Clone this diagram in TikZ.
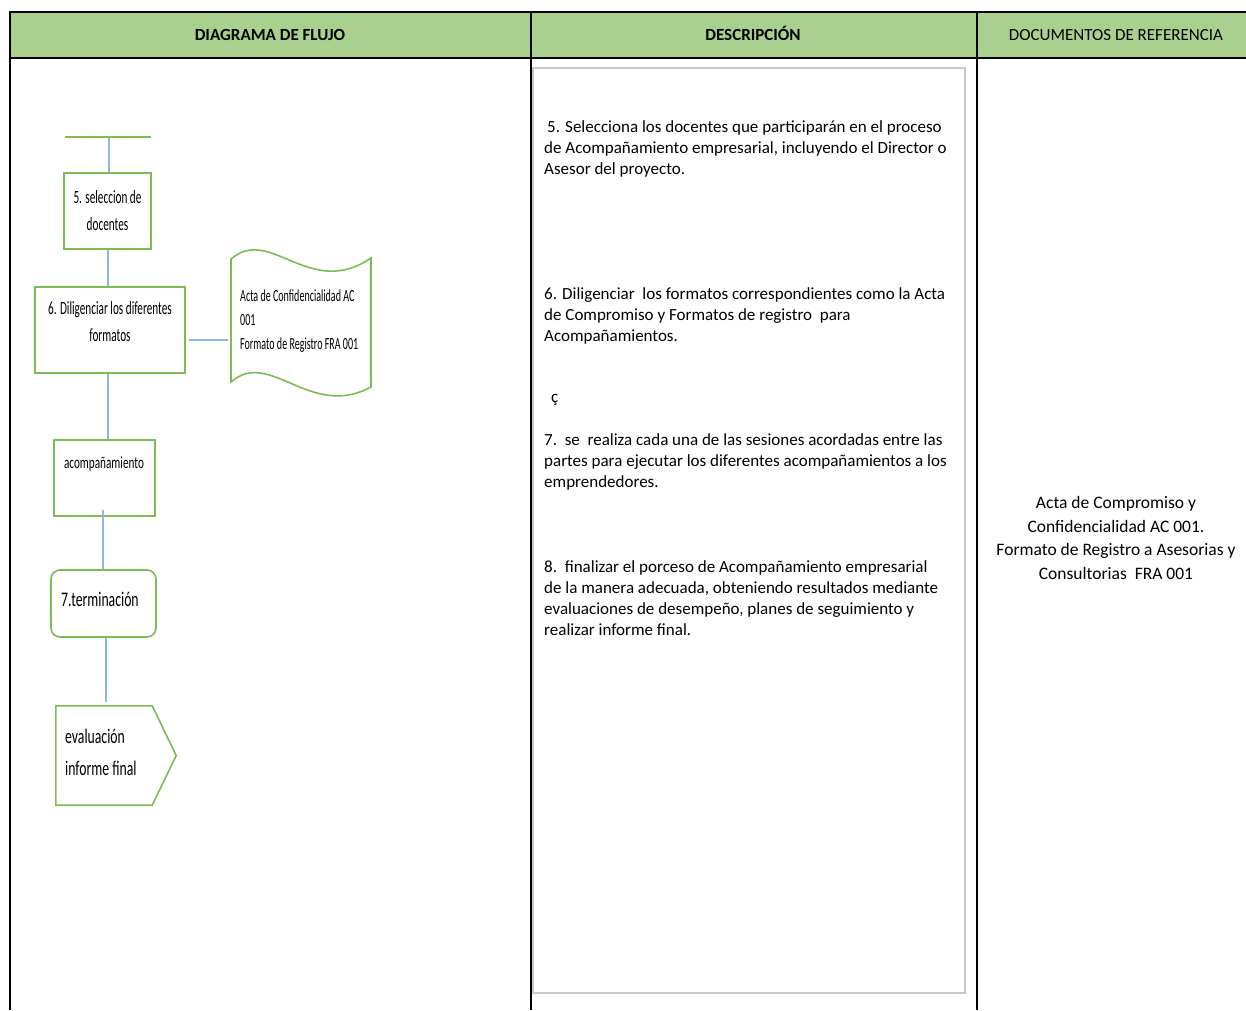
\documentclass[tikz,border=0pt]{standalone}
\usepackage{fontspec}
\setmainfont{Carlito}
\newfontfamily\narrowfont[FakeStretch=0.6]{Carlito}
\newfontfamily\narrowacfont[FakeStretch=0.66]{Carlito}
\newfontfamily\narrowerfont[FakeStretch=0.59]{Carlito}
\newfontfamily\narrowbigfont[FakeStretch=0.66]{Carlito}
\definecolor{hdr}{HTML}{A9D08E}
\definecolor{boxg}{HTML}{7DBB55}
\definecolor{lnb}{HTML}{8DB8E2}
\definecolor{grayb}{HTML}{C8C8C8}
\begin{document}
\begin{tikzpicture}[x=1pt,y=-1pt,
  fbox/.style={draw=boxg, line width=1.6pt, inner sep=0pt},
  conn/.style={draw=lnb, line width=1.5pt},
  gridln/.style={line width=2.2pt, black},
  hd/.style={font=\fontsize{17}{20}\selectfont, anchor=base},
  nf/.style={font=\narrowfont\fontsize{18.7}{27}\selectfont, inner sep=0pt},
  bigf/.style={font=\narrowbigfont\fontsize{20.8}{32}\selectfont, inner sep=0pt},
  desc/.style={font=\fontsize{17}{21}\selectfont, align=left, anchor=north west, inner sep=0pt},
  refd/.style={font=\fontsize{17.5}{23.5}\selectfont, align=center, inner sep=0pt}
]
\useasboundingbox (0,0) rectangle (1246,1010);
% table
\fill[hdr] (10,12) rectangle (1246,58);
\draw[gridln] (1246,12) -- (10,12) -- (10,1010);
\draw[gridln] (10,58) -- (1246,58);
\draw[gridln] (531,12) -- (531,1010);
\draw[gridln] (977,12) -- (977,1010);
\node[hd] (h1) at (270,40) {\bfseries DIAGRAMA DE FLUJO};
\node[hd] (h2) at (753,40) {\bfseries DESCRIPCIÓN};
\node[hd] (h3) at (1116,40) {DOCUMENTOS DE REFERENCIA};
% inner description box
\draw[grayb, line width=1.2pt] (533,68) rectangle (965,993);

% flowchart
\coordinate (tl) at (65,137);
\coordinate (tr) at (151,137);
\coordinate (tm) at (109,137);
\draw[boxg, line width=1.6pt] (tl) -- (tr);

\node[fbox, minimum width=87, minimum height=76] (s5) at (107.5,211) {};
\node[nf, align=center] (s5t) at (107.5,210.5) {5. seleccion de\\docentes};

\node[fbox, minimum width=150, minimum height=86] (s6) at (110,330) {};
\node[nf, align=center] (s6t) at (110,322) {6. Diligenciar los diferentes\\formatos};

\node[minimum width=140, minimum height=127, inner sep=0pt] (doc) at (301,322) {};
\draw[boxg, line width=1.6pt] (231,259) .. controls (270,225) and (310,300) .. (371,258)
  -- (371,387) .. controls (310,420) and (270,348) .. (231,382) -- cycle;
\node[font=\narrowerfont\fontsize{17}{24}\selectfont, align=left, anchor=west, inner sep=0pt] (doct) at (240,321)
  {Acta de Confidencialidad AC\\001\\Formato de Registro FRA 001};

\node[fbox, minimum width=101, minimum height=76] (ac) at (104.5,478) {};
\node[font=\narrowacfont\fontsize{17}{20}\selectfont, inner sep=0pt] (act) at (104,464) {acompañamiento};

\node[fbox, rounded corners=9pt, minimum width=105, minimum height=67] (tm7) at (103.5,603.5) {};
\node[bigf, anchor=west] (tm7t) at (61,599) {7.terminación};

\node[minimum width=120, minimum height=99, inner sep=0pt] (ev) at (116,755.5) {};
\draw[boxg, line width=1.6pt] (ev.north west) -- ([xshift=-24pt]ev.north east) -- (ev.east)
  -- ([xshift=-24pt]ev.south east) -- (ev.south west) -- cycle;
\node[bigf, align=left, anchor=west] (evt) at (65,752) {evaluación\\informe final};

% connectors
\draw[conn] (tm) -- (tm |- s5.north);
\draw[conn] ([xshift=0.5pt]s5.south) -- ([xshift=0.5pt]s5.south |- s6.north);
\draw[conn] ([xshift=3pt,yshift=-10pt]s6.east) -- ([xshift=-3pt,yshift=-18pt]doc.west);
\draw[conn] ([xshift=-2pt]s6.south) -- ([xshift=-2pt]s6.south |- ac.north);
\draw[conn] ([xshift=-1.5pt,yshift=7pt]ac.south) -- ([xshift=-1.5pt]ac.south |- tm7.north);
\draw[conn] ([xshift=2.5pt]tm7.south) -- ([xshift=2.5pt,yshift=4pt]tm7.south |- ev.north);

% description
\node[desc] (d5) at (544,120) {\hspace{3pt}5. Selecciona los docentes que participarán en el proceso\\de Acompañamiento empresarial, incluyendo el Director o\\Asesor del proyecto.};
\node[desc] (d6) at (544,287) {6. Diligenciar\ \ los formatos correspondientes como la Acta\\de Compromiso y Formatos de registro\ \ para\\Acompañamientos.};
\node[desc] (dc) at (551,394) {ç};
\node[desc] (d7) at (544,433) {7.\ \ se\ \ realiza cada una de las sesiones acordadas entre las\\partes para ejecutar los diferentes acompañamientos a los\\emprendedores.};
\node[desc] (d8) at (544,560) {8.\ \ finalizar el porceso de Acompañamiento empresarial\\de la manera adecuada, obteniendo resultados mediante\\evaluaciones de desempeño, planes de seguimiento y\\realizar informe final.};

% references
\node[refd] (r1) at (1116,538) {Acta de Compromiso y\\Confidencialidad AC 001.\\Formato de Registro a Asesorias y\\Consultorias\ \ FRA 001};
\end{tikzpicture}
\end{document}
